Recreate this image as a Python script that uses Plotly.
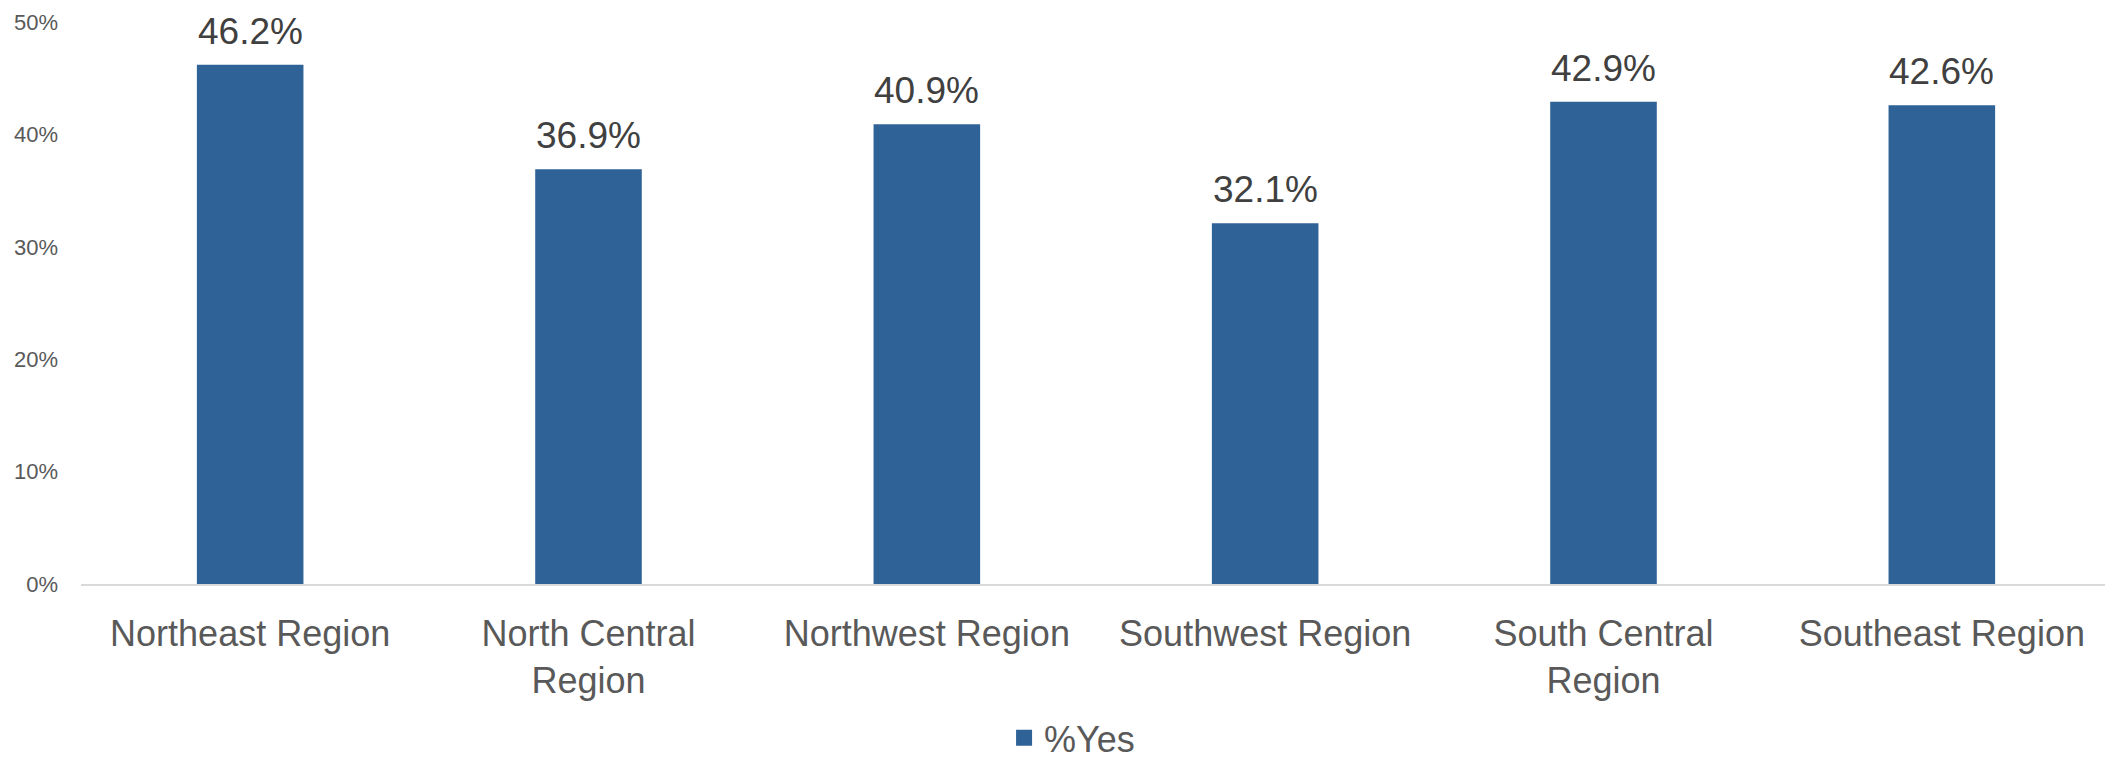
import plotly.graph_objects as go

categories = ["Northeast Region", "North Central<br>Region", "Northwest Region",
              "Southwest Region", "South Central<br>Region", "Southeast Region"]
values = [0.462, 0.369, 0.409, 0.321, 0.429, 0.426]
series_name = "%Yes"
y_ticks = [0, 0.1, 0.2, 0.3, 0.4, 0.5]

BAR_COLOR = "#2F6296"
FONT = "Liberation Sans, Arial, sans-serif"

fig = go.Figure()
fig.add_trace(go.Bar(
    x=categories, y=values, name=series_name,
    marker=dict(color=BAR_COLOR, line=dict(width=0)),
    showlegend=False,
))
# legend entry (square swatch)
fig.add_trace(go.Scatter(
    x=[None], y=[None], mode="markers", name=series_name,
    marker=dict(symbol="square", size=16, color=BAR_COLOR),
    showlegend=True,
))

for c, v in zip(categories, values):
    fig.add_annotation(
        x=c, y=v, text=f"{v*100:.1f}%", showarrow=False,
        yanchor="bottom", yshift=11,
        font=dict(family=FONT, size=37, color="#404040"),
    )

# page body has an 8px margin; figure sized to fit the 2113x762 window
fig.update_layout(
    width=2105, height=754,
    margin=dict(l=73, r=2, t=14, b=178),
    paper_bgcolor="white", plot_bgcolor="white",
    bargap=0.685,
    font=dict(family=FONT, color="#595959"),
    legend=dict(orientation="h", xref="container", x=0.5055, xanchor="center",
                yref="container", y=0.032, yanchor="middle",
                font=dict(size=36, color="#595959", family=FONT),
                itemwidth=30),
)
fig.update_xaxes(
    showline=True, linecolor="#D9D9D9", linewidth=2,
    showgrid=False, ticks="", automargin=False,
    tickfont=dict(size=36, color="#595959", family=FONT),
    ticklabelstandoff=17,
)
fig.update_yaxes(
    range=[0, 0.5], tickvals=y_ticks, tickformat=".0%",
    showgrid=False, zeroline=False, showline=False, ticks="", automargin=False,
    tickfont=dict(size=22, color="#595959", family=FONT),
    ticklabelstandoff=22,
)

fig.write_html("out.html")
